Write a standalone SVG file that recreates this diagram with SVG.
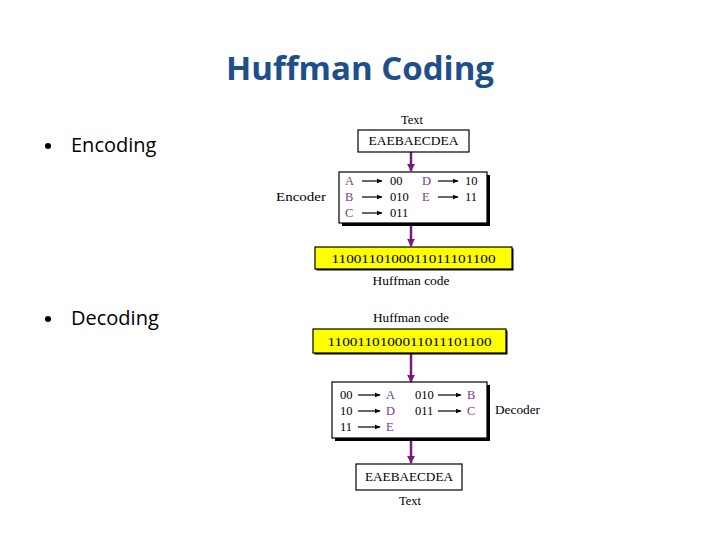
<svg xmlns="http://www.w3.org/2000/svg" width="720" height="540" viewBox="0 0 720 540">
<defs>
<style>
.title{font-family:"Open Sans","Liberation Sans",sans-serif;font-weight:bold;font-size:32px;fill:#1F4E8C}
.bullet{font-family:"Open Sans","Liberation Sans",sans-serif;font-size:20px;fill:#000}
.s{font-family:"Liberation Serif",serif;font-size:12.5px;fill:#000}
.m{font-family:"Liberation Serif",serif;font-size:13px;fill:#000}
.p{font-family:"Liberation Serif",serif;font-size:12.5px;fill:#7B3A8A}
.box{fill:#fff;stroke:#000;stroke-width:1.2}
.ybox{fill:#FFFF00;stroke:#000;stroke-width:1.2}
.shadow{fill:#000}
.conn{stroke:#7A1A7E;stroke-width:2.5;fill:none}
.ar{stroke:#000;stroke-width:1.2;fill:none}
</style>
<marker id="pa" viewBox="0 0 10 10" refX="9" refY="5" markerWidth="3.2" markerHeight="3.2" orient="auto" markerUnits="strokeWidth">
<path d="M0,0 L10,5 L0,10 z" fill="#7A1A7E"/>
</marker>
<marker id="ba" viewBox="0 0 10 10" refX="9" refY="5" markerWidth="5" markerHeight="5" orient="auto" markerUnits="strokeWidth">
<path d="M0,1 L10,5 L0,9 z" fill="#000"/>
</marker>
</defs>
<rect width="720" height="540" fill="#fff"/>
<text class="title" x="360" y="80" text-anchor="middle" textLength="268" lengthAdjust="spacingAndGlyphs">Huffman Coding</text>
<g id="bullet-encoding"><circle cx="48" cy="146" r="3" fill="#000"/><text class="bullet" x="71" y="152">Encoding</text></g>
<g id="bullet-decoding"><circle cx="48" cy="319" r="3" fill="#000"/><text class="bullet" x="71" y="325">Decoding</text></g>

<g id="connectors">
<line class="conn" x1="411" y1="152" x2="411" y2="171" marker-end="url(#pa)"/>
<line class="conn" x1="411" y1="224" x2="411" y2="246" marker-end="url(#pa)"/>
<line class="conn" x1="411" y1="354" x2="411" y2="382" marker-end="url(#pa)"/>
<line class="conn" x1="411" y1="440" x2="411" y2="463" marker-end="url(#pa)"/>
</g>

<g id="enc-text">
<text class="s" x="412" y="124" text-anchor="middle" textLength="22" lengthAdjust="spacingAndGlyphs">Text</text>
<rect class="box" x="358" y="130" width="111" height="22"/>
<text class="m" x="413.5" y="145" text-anchor="middle" textLength="90" lengthAdjust="spacingAndGlyphs">EAEBAECDEA</text>
</g>

<g id="encoder">
<text class="s" x="276" y="201" textLength="50" lengthAdjust="spacingAndGlyphs">Encoder</text>
<rect class="shadow" x="342" y="175" width="148" height="51"/>
<rect class="box" x="339" y="172" width="148" height="51"/>
<text class="p" x="345" y="185">A</text>
<line class="ar" x1="362" y1="181" x2="382" y2="181" marker-end="url(#ba)"/>
<text class="s" x="390" y="185">00</text>
<text class="p" x="422" y="185">D</text>
<line class="ar" x1="438" y1="181" x2="458" y2="181" marker-end="url(#ba)"/>
<text class="s" x="465" y="185">10</text>
<text class="p" x="345" y="201">B</text>
<line class="ar" x1="362" y1="197" x2="382" y2="197" marker-end="url(#ba)"/>
<text class="s" x="390" y="201">010</text>
<text class="p" x="422" y="201">E</text>
<line class="ar" x1="438" y1="197" x2="458" y2="197" marker-end="url(#ba)"/>
<text class="s" x="465" y="201">11</text>
<text class="p" x="345" y="217">C</text>
<line class="ar" x1="362" y1="213" x2="382" y2="213" marker-end="url(#ba)"/>
<text class="s" x="390" y="217">011</text>
</g>

<g id="enc-code">
<rect class="shadow" x="316.5" y="248.5" width="197" height="22"/>
<rect class="ybox" x="315" y="247" width="197" height="22"/>
<text class="m" x="413.5" y="263" text-anchor="middle" textLength="164" lengthAdjust="spacingAndGlyphs">1100110100011011101100</text>
<text class="s" x="411" y="285" text-anchor="middle" textLength="77" lengthAdjust="spacingAndGlyphs">Huffman code</text>
</g>

<g id="dec-code">
<text class="s" x="411" y="322" text-anchor="middle" textLength="76" lengthAdjust="spacingAndGlyphs">Huffman code</text>
<rect class="shadow" x="314.5" y="330.5" width="193" height="24"/>
<rect class="ybox" x="313" y="329" width="193" height="24"/>
<text class="m" x="409.5" y="346" text-anchor="middle" textLength="164" lengthAdjust="spacingAndGlyphs">1100110100011011101100</text>
</g>

<g id="decoder">
<rect class="shadow" x="335" y="385" width="155" height="56"/>
<rect class="box" x="332" y="382" width="155" height="56"/>
<text class="s" x="340" y="399">00</text>
<line class="ar" x1="358" y1="395" x2="380" y2="395" marker-end="url(#ba)"/>
<text class="p" x="386" y="399">A</text>
<text class="s" x="415" y="399">010</text>
<line class="ar" x1="438" y1="395" x2="461" y2="395" marker-end="url(#ba)"/>
<text class="p" x="467" y="399">B</text>
<text class="s" x="340" y="415">10</text>
<line class="ar" x1="358" y1="411" x2="380" y2="411" marker-end="url(#ba)"/>
<text class="p" x="386" y="415">D</text>
<text class="s" x="415" y="415">011</text>
<line class="ar" x1="438" y1="411" x2="461" y2="411" marker-end="url(#ba)"/>
<text class="p" x="467" y="415">C</text>
<text class="s" x="340" y="431">11</text>
<line class="ar" x1="358" y1="427" x2="380" y2="427" marker-end="url(#ba)"/>
<text class="p" x="386" y="431">E</text>
<text class="s" x="495" y="414" textLength="45" lengthAdjust="spacingAndGlyphs">Decoder</text>
</g>

<g id="dec-text">
<rect class="box" x="356" y="464" width="106" height="26"/>
<text class="m" x="409" y="481" text-anchor="middle" textLength="88" lengthAdjust="spacingAndGlyphs">EAEBAECDEA</text>
<text class="s" x="410" y="505" text-anchor="middle" textLength="22" lengthAdjust="spacingAndGlyphs">Text</text>
</g>
</svg>
